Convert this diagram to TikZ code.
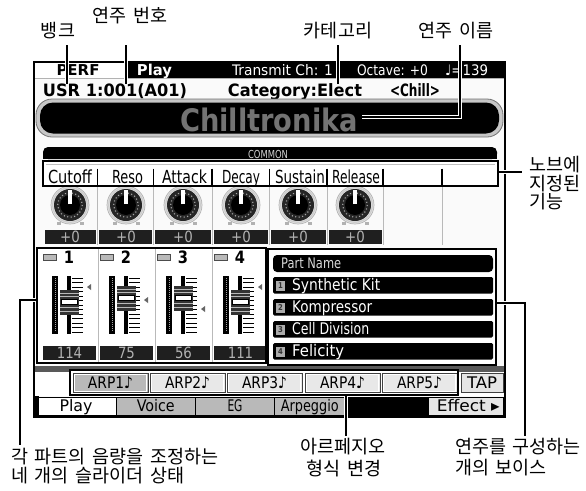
\documentclass[tikz,border=0pt]{standalone}
\usepackage{fontspec}
\usepackage{graphicx}
\setmainfont{DejaVu Sans}
\newfontfamily\kr{Noto Sans CJK KR}
\newfontfamily\lcd[FakeStretch=0.86]{DejaVu Sans}
\newcommand\fw[2]{\resizebox{#1pt}{\height}{#2}}
\newcommand\ws{\hspace{0.36em}}
\begin{document}
\begin{tikzpicture}[x=1pt,y=-1pt,
  lbl/.style={font=\kr\fontsize{18.5}{21}\selectfont, inner sep=0pt},
  leader/.style={line width=1.6pt, preaction={draw=white, line width=4.5pt}},
  anno/.style={draw=black, line width=1.6pt},
  scr/.style={font=\lcd\fontsize{14.5}{14.5}\selectfont, inner sep=0pt, anchor=base},
  scrb/.style={font=\lcd\bfseries\fontsize{15}{15}\selectfont, inner sep=0pt, anchor=base},
  usrf/.style={font=\lcd\bfseries\fontsize{17}{17}\selectfont, inner sep=0pt, anchor=base},
  scrm/.style={scr, font=\lcd\fontsize{16}{16}\selectfont},
  sepl/.style={gray!55, line width=0.9pt},
  valtxt/.style={font=\lcd\fontsize{15.5}{15.5}\selectfont, text=gray!60, inner sep=0pt, anchor=base},
]
\useasboundingbox (0,0) rectangle (586,490);
\fill[white] (0,0) rectangle (586,490);

% ---------- screen background
\fill[gray!4] (34,62) rectangle (505,417);

% ---------- top bar
\fill[black] (128,62) rectangle (505,77.5);
\fill[white] (35,62) rectangle (128,77.5);
\draw[gray!60, line width=0.8pt] (35,78.5) -- (504,78.5);
\node[scrb] (perf) at (78,75.5) {\fw{43}{PERF}};
\node[scrb, text=white] (playt) at (154.5,75.5) {\fw{35}{Play}};
\node[scr, text=white] (tx) at (282.5,75.5) {\fw{101}{Transmit Ch: 1}};
\node[scr, text=white] (oct) at (392.5,75.5) {\fw{71}{Octave: +0}};
\node[scr, text=white] (tempo) at (466.5,75.5) {\fw{43}{♩=139}};

% ---------- USR row
\node[usrf] (usr) at (115,96.5) {\fw{144}{USR 1:001(A01)}};
\node[usrf] (cat) at (295,96.5) {\fw{134}{Category:Elect}};
\node[usrf] (chill) at (415,96.5) {\fw{50}{<Chill>}};

% ---------- name panel
\draw[black!55, line width=0.8pt, fill=gray!45, rounded corners=16] (36,99) rectangle (503,137);
\fill[black, rounded corners=13] (40,102.5) rectangle (499,133.5);
\node[inner sep=0pt, anchor=base, font=\lcd\bfseries\fontsize{31}{31}\selectfont, text=black!55] (pname) at (269,131) {\fw{178}{Chilltronika}};

% ---------- COMMON bar
\fill[black, rounded corners=5] (43,147) rectangle (497,159);
\fill[black] (43,153) rectangle (497,159);
\node[scr, font=\lcd\fontsize{11}{11}\selectfont, text=gray!35] (common) at (268,158) {\fw{40}{COMMON}};

% ---------- knob label row
\fill[white] (43,161) rectangle (498,186);
\draw[gray!50, line width=0.8pt] (46,164) -- (495,164);
\foreach \lx/\lt/\lw [count=\li] in {70/Cutoff/44, 127.5/Reso/31, 184.5/Attack/45, 241/Decay/38, 300/Sustain/50, 356/Release/48}
  \node[scr, font=\lcd\fontsize{18}{18}\selectfont] (lab\li) at (\lx,183) {\fw{\lw}{\lt}};
\foreach \sx in {97.5,153.5,212,269.5,327,383,442} {
  \draw[black, line width=1.1pt] (\sx,168.5) -- (\sx,185);
  \draw[sepl] (\sx,187) -- (\sx,245);
}

% ---------- knobs and values
\foreach \kx/\ka/\kb [count=\ki] in {70/43/97.5, 126/97.5/153.5, 183/153.5/212, 241/212/269.5, 298/269.5/327, 355/327/383} {
  \fill[gray!20] (\kx,205) circle (19);
  \draw[gray!60, line width=0.7pt] (\kx,205) circle (19);
  \draw[gray!40, line width=1.2pt] (\kx,205) circle (17.3);
  \fill[black!85] (\kx,205) circle (16);
  \draw[gray!70, line width=1.1pt, dash pattern=on 1.1pt off 2.4pt] (\kx,205) circle (12.3);
  \fill[black] (\kx,205) circle (10);
  \draw[white, line width=3.2pt] (\kx,204) -- (\kx,189.5);
  \fill[gray!60] (\kx-13.5,221.5) rectangle (\kx-9.5,225);
  \fill[gray!60] (\kx+9.5,221.5) rectangle (\kx+13.5,225);
  \fill[black!88] (\ka+1.5,230) rectangle (\kb-1.5,244);
  \node[valtxt] (kv\ki) at (\kx,242) {+0};
}

% ---------- slider strips
\fill[white] (38,249) rectangle (266,362);
\foreach \sx in {98,155,212} \draw[sepl] (\sx,249) -- (\sx,362);
\foreach \dx/\cy/\ay/\vv [count=\si] in {0/302/287/114, 57/298/300/75, 114/298/309/56, 171/302/287/111} {
  \draw[black!70, fill=gray!55, line width=0.6pt] (43+\dx,254) rectangle (56+\dx,260);
  \node[scrb, font=\lcd\bfseries\fontsize{17}{17}\selectfont] (sn\si) at (69+\dx,263) {\si};
  \fill[black] (52+\dx,276) rectangle (58+\dx,334);
  \draw[gray!70, line width=1pt, dash pattern=on 1pt off 1pt] (55+\dx,278) -- (55+\dx,332);
  \fill[black] (67+\dx,276) rectangle (71+\dx,334);
  \foreach \ty in {278,282.5,287,291.5,296,300.5,305,309.5,314,318.5,323,327.5,332}
    \draw[black, line width=1pt] (72+\dx,\ty) -- (83+\dx,\ty);
  \fill[black!80] (60+\dx,\cy-12.5) rectangle (79+\dx,\cy+12.5);
  \foreach \s in {-9,-5.5,5.5,9}
    \draw[gray!55, line width=0.8pt] (60+\dx,\cy+\s) -- (79+\dx,\cy+\s);
  \draw[black, fill=white, line width=0.8pt] (61.5+\dx,\cy-2.5) rectangle (77.5+\dx,\cy+2.5);
  \fill[black!60] (87+\dx,\ay) -- (91+\dx,\ay-3) -- (91+\dx,\ay+3) -- cycle;
  \fill[black!88] (43+\dx,346) rectangle (96+\dx,360);
  \node[valtxt] (sv\si) at (69.5+\dx,358) {\vv};
}

% ---------- part names
\fill[white] (269,250) rectangle (495,364);
\fill[black, rounded corners=4] (273,255) rectangle (493,272);
\node[scr, anchor=base west, text=gray!30] (phead) at (281,268.5) {\fw{60}{Part Name}};
\foreach \pt/\pw [count=\pk] in {Synthetic Kit/88, Kompressor/80, Cell Division/77, Felicity/52} {
  \pgfmathsetmacro\yt{255+22*\pk}
  \fill[black, rounded corners=1.5] (273,\yt) rectangle (493,\yt+16.5);
  \node[fill=gray!65, minimum width=9pt, minimum height=10pt, inner sep=0pt,
        font=\lcd\bfseries\fontsize{8}{8}\selectfont, text=black!80] (pnum\pk) at (280.5,\yt+8.5) {\pk};
  \node[scr, anchor=base west, text=white, font=\lcd\fontsize{16}{16}\selectfont] (part\pk) at (292,\yt+13.5) {\fw{\pw}{\pt}};
}

% ---------- ARP row
\fill[black!65] (35,365.5) rectangle (504,372);
\fill[white] (35,372) rectangle (504,396);
\fill[white] (70,370) rectangle (458,395);
\foreach \bx/\bt/\bc [count=\bi] in {73/ARP1/gray!55, 150/ARP2/gray!18, 227/ARP3/gray!18, 305/ARP4/gray!18, 382/ARP5/gray!18} {
  \draw[black!75, line width=0.8pt, fill=\bc] (\bx,373) rectangle (\bx+75,392.5);
  \draw[white, line width=0.6pt] (\bx+1.5,374.5) rectangle (\bx+73.5,391);
  \node[scrm] (arp\bi) at (\bx+37.5,388.5) {\fw{45}{\bt♪}};
}
\draw[black!75, line width=0.8pt, fill=gray!20] (461.5,373) rectangle (503,392.5);
\node[scrm] (tap) at (482,388.5) {\fw{30}{TAP}};

% ---------- tabs
\draw[black, line width=0.8pt, fill=white] (35,397) rectangle (116,415.5);
\fill[black] (34,396) rectangle (38.5,416.5);
\node[scrm] (tplay) at (76,411.5) {\fw{33}{Play}};
\foreach \ta/\tb/\tname/\tw [count=\ti] in {116/195.5/Voice/38, 195.5/274.5/EG/15, 274.5/345/Arpeggio/58} {
  \draw[black, line width=0.8pt, fill=gray!55] (\ta,397) rectangle (\tb,415.5);
  \node[scrm] (tab\ti) at ({(\ta+\tb)/2},411.5) {\fw{\tw}{\tname}};
}
\fill[black] (345,397) rectangle (428,415.5);
\draw[black, line width=0.8pt, fill=gray!20] (428,397) rectangle (503.5,415.5);
\node[scrm, anchor=base east] (teff) at (500,411.5) {\fw{63}{Effect ▸}};

% ---------- screen border
\draw[black, line width=1.5pt] (34,62) rectangle (505,417);

% ---------- leaders
\coordinate (bk1) at (67,45);  \coordinate (bk2) at (67,84);
\coordinate (pn1) at (126,45); \coordinate (pn2) at (126,84);
\coordinate (ct1) at (338,45); \coordinate (ct2) at (338,84);
\coordinate (nm1) at (460,45); \coordinate (nm2) at (460,117); \coordinate (nm3) at (362,117);
\coordinate (kb1) at (498,172); \coordinate (kb2) at (522,172);
\coordinate (sl1) at (37,300); \coordinate (sl2) at (20,300); \coordinate (sl3) at (20,445);
\coordinate (ar1) at (346,395); \coordinate (ar2) at (346,436);
\coordinate (pt1) at (496,303); \coordinate (pt2) at (525,303); \coordinate (pt3) at (525,436);
\draw[leader] (bk1) -- (bk2);
\draw[leader] (pn1) -- (pn2);
\draw[leader] (ct1) -- (ct2);
\draw[leader] (nm1) -- (nm2) -- (nm3);
\draw[leader] (kb1) -- (kb2);
\draw[leader] (sl1) -- (sl2) -- (sl3);
\draw[leader] (ar1) -- (ar2);
\draw[leader] (pt1) -- (pt2) -- (pt3);

% ---------- annotation boxes
\draw[anno] (43,161) rectangle (498,186);
\draw[anno] (37,248) rectangle (266,363);
\draw[anno] (268,249) rectangle (496,365);
\draw[anno] (70,370) rectangle (458,395);

% ---------- labels
\node[lbl] (bank) at (58,31) {뱅크};
\node[lbl] (pnumlbl) at (130,16) {연주\ws 번호};
\node[lbl] (cate) at (338,31) {카테고리};
\node[lbl] (pnam) at (456,31) {연주\ws 이름};
\node[lbl, anchor=west] (kf1) at (529,165) {노브에};
\node[lbl, anchor=west] (kf2) at (529,183.5) {지정된};
\node[lbl, anchor=west] (kf3) at (529,202) {기능};
\node[lbl, anchor=west] (sv1l) at (11,457) {각\ws 파트의\ws 음량을\ws 조정하는};
\node[lbl, anchor=west] (sv2l) at (11,476) {네\ws 개의\ws 슬라이더\ws 상태};
\node[lbl] (ap1) at (343,447) {아르페지오};
\node[lbl] (ap2) at (344,468) {형식\ws 변경};
\node[lbl, anchor=west] (vc1) at (455,447) {연주를\ws 구성하는};
\node[lbl, anchor=west] (vc2) at (455,468) {개의\ws 보이스};
\end{tikzpicture}
\end{document}
